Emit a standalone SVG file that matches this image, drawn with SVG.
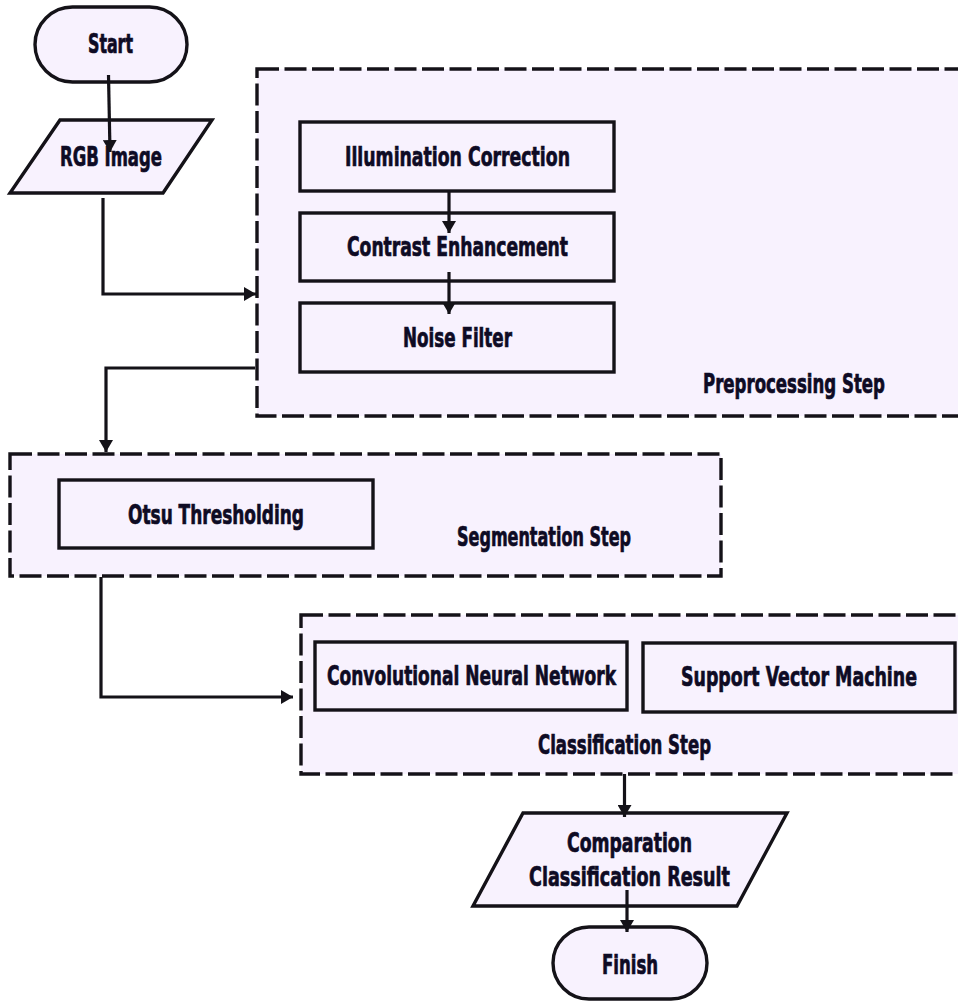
<svg xmlns="http://www.w3.org/2000/svg" width="958" height="1001" viewBox="0 0 958 1001">
  <style>
    .bg { fill: #ffffff; }
    .node { fill: #f8f2fe; stroke: #141218; stroke-width: 3.4; }
    .group { fill: #f8f2fe; stroke: #141218; stroke-width: 3.4; stroke-dasharray: 22 5.5; }
    .lbl { font-family: "DejaVu Sans Condensed", "DejaVu Sans", sans-serif; font-stretch: condensed; font-weight: bold; font-size: 27px; fill: #0e0b24; text-anchor: middle; stroke: #0e0b24; stroke-width: 0.7; }
    .conn { fill: none; stroke: #141218; stroke-width: 3.2; }
  </style>
  <defs>
    <marker id="arrow" viewBox="0 0 12 14" refX="12" refY="7" markerWidth="12" markerHeight="14" markerUnits="userSpaceOnUse" orient="auto">
      <path d="M0,0 L12,7 L0,14 Z" fill="#141218"/>
    </marker>
  </defs>
  <rect class="bg" x="0" y="0" width="958" height="1001"/>

  <g id="group-preprocessing">
    <rect class="group" x="257" y="69" width="730" height="347"/>
    <text class="lbl" x="794" y="393" textLength="182" lengthAdjust="spacingAndGlyphs">Preprocessing Step</text>
  </g>
  <g id="group-segmentation">
    <rect class="group" x="10" y="454" width="711" height="122"/>
    <text class="lbl" x="544" y="546" textLength="174" lengthAdjust="spacingAndGlyphs">Segmentation Step</text>
  </g>
  <g id="group-classification">
    <rect class="group" x="301" y="615" width="700" height="159"/>
    <text class="lbl" x="624.5" y="754" textLength="173" lengthAdjust="spacingAndGlyphs">Classification Step</text>
  </g>

  <g id="node-start">
    <rect class="node" x="35" y="7" width="152" height="75" rx="37.5"/>
    <text class="lbl" x="110.5" y="53" font-size="29" textLength="45" lengthAdjust="spacingAndGlyphs">Start</text>
  </g>
  <g id="node-rgb">
    <polygon class="node" points="60,120 212,120 163,193 10,193"/>
    <text class="lbl" x="111" y="166" textLength="102" lengthAdjust="spacingAndGlyphs">RGB Image</text>
  </g>
  <g id="node-illumination">
    <rect class="node" x="300" y="122" width="314" height="69"/>
    <text class="lbl" x="457.5" y="166" textLength="225" lengthAdjust="spacingAndGlyphs">Illumination Correction</text>
  </g>
  <g id="node-contrast">
    <rect class="node" x="300" y="213" width="314" height="68"/>
    <text class="lbl" x="457.5" y="256" textLength="221" lengthAdjust="spacingAndGlyphs">Contrast Enhancement</text>
  </g>
  <g id="node-noise">
    <rect class="node" x="300" y="303" width="314" height="69"/>
    <text class="lbl" x="457.5" y="347" textLength="109" lengthAdjust="spacingAndGlyphs">Noise Filter</text>
  </g>
  <g id="node-otsu">
    <rect class="node" x="59" y="480" width="314" height="68"/>
    <text class="lbl" x="216" y="524" textLength="176" lengthAdjust="spacingAndGlyphs">Otsu Thresholding</text>
  </g>
  <g id="node-cnn">
    <rect class="node" x="315" y="642" width="312" height="68"/>
    <text class="lbl" x="471.5" y="685" textLength="289" lengthAdjust="spacingAndGlyphs">Convolutional Neural Network</text>
  </g>
  <g id="node-svm">
    <rect class="node" x="643" y="643" width="312" height="69"/>
    <text class="lbl" x="799" y="686" textLength="236" lengthAdjust="spacingAndGlyphs">Support Vector Machine</text>
  </g>
  <g id="node-result">
    <polygon class="node" points="523,813 787,813 737,906 473,906"/>
    <text class="lbl" x="629.5" y="852" textLength="125" lengthAdjust="spacingAndGlyphs">Comparation</text>
    <text class="lbl" x="629.5" y="886" textLength="201" lengthAdjust="spacingAndGlyphs">Classification Result</text>
  </g>
  <g id="node-finish">
    <rect class="node" x="553" y="927" width="154" height="72" rx="36"/>
    <text class="lbl" x="630" y="974" textLength="56" lengthAdjust="spacingAndGlyphs">Finish</text>
  </g>

  <g id="connectors">
    <path class="conn" d="M108.5,75 L110,152" marker-end="url(#arrow)"/>
    <path class="conn" d="M103,198 L103,294 L256,294" marker-end="url(#arrow)"/>
    <path class="conn" d="M449,191 L449,233" marker-end="url(#arrow)"/>
    <path class="conn" d="M449,272 L449,314" marker-end="url(#arrow)"/>
    <path class="conn" d="M255,368 L106,368 L106,452" marker-end="url(#arrow)"/>
    <path class="conn" d="M101,577 L101,697 L293,697" marker-end="url(#arrow)"/>
    <path class="conn" d="M624.5,774 L624.5,817" marker-end="url(#arrow)"/>
    <path class="conn" d="M627,890 L627,932" marker-end="url(#arrow)"/>
  </g>
</svg>
